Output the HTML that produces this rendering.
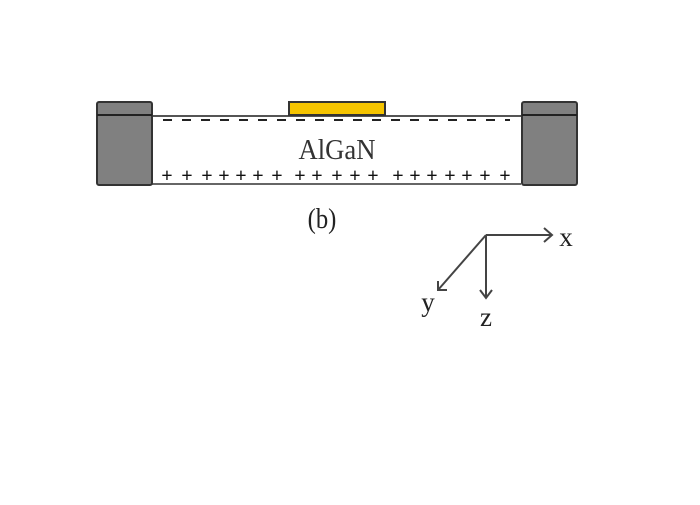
<!DOCTYPE html><html><head><style>body{margin:0;background:#fff}</style></head><body>
<svg width="700" height="500" xmlns="http://www.w3.org/2000/svg" font-family="Liberation Serif, serif">
<rect width="700" height="500" fill="#fff"/>
<line x1="152" y1="116" x2="521" y2="116" stroke="#555" stroke-width="2"/>
<line x1="152" y1="184" x2="521" y2="184" stroke="#666" stroke-width="2"/>
<rect x="97" y="102" width="55" height="83" fill="#808080" stroke="#333" stroke-width="2" rx="2"/>
<line x1="97" y1="115" x2="152" y2="115" stroke="#222" stroke-width="2"/>
<rect x="522" y="102" width="55" height="83" fill="#808080" stroke="#333" stroke-width="2" rx="2"/>
<line x1="522" y1="115" x2="577" y2="115" stroke="#222" stroke-width="2"/>
<rect x="289" y="102" width="96" height="13" fill="#f5c400" stroke="#333" stroke-width="2"/>
<line x1="163" y1="120" x2="510" y2="120" stroke="#222" stroke-width="2" stroke-dasharray="9,10"/>
<g font-size="20" font-weight="bold" text-anchor="middle" fill="#111">
<text x="167" y="182">+</text><text x="187" y="182">+</text><text x="207" y="182">+</text><text x="224" y="182">+</text><text x="241" y="182">+</text><text x="258" y="182">+</text><text x="277" y="182">+</text><text x="300" y="182">+</text><text x="317" y="182">+</text><text x="337" y="182">+</text><text x="355" y="182">+</text><text x="373" y="182">+</text><text x="398" y="182">+</text><text x="415" y="182">+</text><text x="432" y="182">+</text><text x="450" y="182">+</text><text x="467" y="182">+</text><text x="485" y="182">+</text><text x="505" y="182">+</text>
</g>
<text x="337" y="159" font-size="29" text-anchor="middle" fill="#333" transform="translate(337 0) scale(0.92 1) translate(-337 0)">AlGaN</text>
<text x="322" y="228" font-size="29" text-anchor="middle" fill="#222" transform="translate(322 0) scale(0.85 1) translate(-322 0)">(b)</text>
<g stroke="#444" stroke-width="2" fill="none">
<line x1="486" y1="235" x2="552" y2="235"/><polyline points="544,228 552,235 544,242"/>
<line x1="486" y1="235" x2="438" y2="290"/><polyline points="438,281 438,290 447,290"/>
<line x1="486" y1="235" x2="486" y2="298"/><polyline points="480,290 486,298 492,290"/>
</g>
<text x="566" y="246" font-size="27" text-anchor="middle" fill="#222">x</text>
<text x="428" y="311" font-size="27" text-anchor="middle" fill="#222">y</text>
<text x="486" y="326" font-size="27" text-anchor="middle" fill="#222">z</text>
</svg></body></html>
